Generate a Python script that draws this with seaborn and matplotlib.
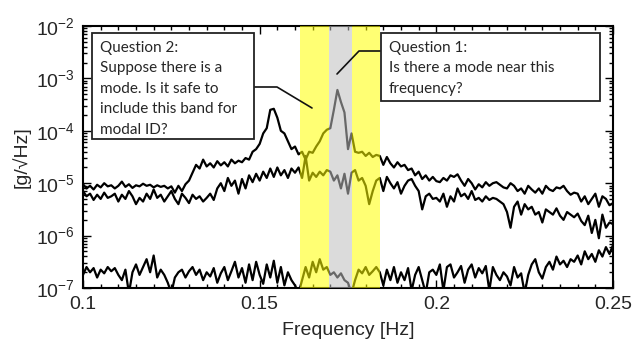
import numpy as np
import pandas as pd
import matplotlib
matplotlib.use('Agg')
import matplotlib.pyplot as plt
import seaborn as sns
from matplotlib.lines import Line2D
from matplotlib.patches import Rectangle
from matplotlib.ticker import MultipleLocator, LogLocator, NullFormatter

# frequency grid [Hz]
freq = np.round(np.linspace(0.1, 0.25, 151), 4)

# spectra, as log10 of [g/sqrt(Hz)]
upper_log10 = [
    -5.02, -5.10, -5.05, -5.12, -5.03, -5.08, -5.00, -5.06, -5.04, -5.10,
    -5.05, -4.97, -5.07, -5.02, -5.09, -5.04, -5.06, -5.01, -5.05, -5.03,
    -5.08, -5.04, -5.07, -5.05, -5.10, -5.06, -5.18, -5.05, -5.15, -5.02,
    -4.95, -4.80, -4.65, -4.72, -4.55, -4.68, -4.62, -4.70, -4.58, -4.66,
    -4.60, -4.68, -4.55, -4.62, -4.57, -4.60, -4.52, -4.55, -4.40, -4.35,
    -4.25, -4.05, -3.95, -3.60, -3.58, -3.75, -4.00, -4.05, -4.20, -4.35,
    -4.30, -4.45, -4.40, -4.55, -4.40, -4.42, -4.30, -4.20, -4.05, -3.98,
    -3.95, -3.60, -3.22, -3.45, -3.65, -4.35, -4.05, -4.40, -4.42, -4.40,
    -4.48, -4.42, -4.50, -4.46, -4.48, -4.65, -4.50, -4.62, -4.70, -4.60,
    -4.68, -4.65, -4.75, -4.72, -4.85, -4.78, -4.92, -4.85, -4.95, -4.88,
    -4.96, -4.98, -4.90, -4.95, -4.85, -4.88, -4.83, -4.95, -5.05, -4.92,
    -5.00, -5.12, -5.02, -5.08, -4.98, -5.05, -5.00, -4.98, -5.03, -5.08,
    -5.10, -5.00, -5.05, -5.15, -5.10, -5.20, -5.05, -5.12, -5.18, -5.10,
    -5.20, -5.05, -5.12, -5.15, -5.08, -5.10, -5.05, -5.15, -5.22, -5.18,
    -5.20, -5.35, -5.25, -5.40, -5.30, -5.20, -5.45, -5.25, -5.30, -5.42,
    -5.38,
]
middle_log10 = [
    -5.15, -5.25, -5.20, -5.32, -5.22, -5.30, -5.18, -5.28, -5.25, -5.20,
    -5.35, -5.22, -5.30, -5.15, -5.25, -5.40, -5.28, -5.35, -5.20, -5.30,
    -5.12, -5.28, -5.22, -5.35, -5.25, -5.15, -5.30, -5.40, -5.20, -5.28,
    -5.38, -5.22, -5.30, -5.25, -5.35, -5.28, -5.20, -5.32, -5.10, -5.00,
    -5.15, -4.90, -5.05, -4.95, -5.20, -4.92, -5.10, -4.85, -4.98, -4.82,
    -4.95, -4.78, -4.90, -4.72, -4.88, -4.70, -4.85, -4.75, -4.90, -4.72,
    -4.80, -4.70, -4.90, -4.48, -4.95, -4.80, -4.88, -4.78, -4.85, -4.75,
    -4.78, -4.95, -4.85, -5.10, -4.82, -5.20, -4.80, -4.75, -4.95, -4.90,
    -5.05, -5.40, -5.15, -4.95, -4.90, -5.15, -4.88, -5.00, -5.10, -4.98,
    -5.20, -5.05, -4.95, -4.92, -5.05, -5.15, -5.50, -5.25, -5.20, -5.30,
    -5.28, -5.35, -5.20, -5.45, -5.25, -5.35, -5.10, -5.25, -5.20, -5.30,
    -5.15, -5.32, -5.28, -5.35, -5.25, -5.32, -5.28, -5.30, -5.35, -5.40,
    -5.55, -5.85, -5.45, -5.35, -5.60, -5.40, -5.50, -5.45, -5.60, -5.55,
    -5.75, -5.50, -5.55, -5.60, -5.48, -5.62, -5.70, -5.55, -5.60, -5.65,
    -5.58, -5.72, -5.80, -5.62, -5.95, -5.70, -6.05, -5.60, -5.85, -5.75,
    -5.78,
]
lower_log10 = [
    -6.75, -6.60, -6.70, -6.62, -6.80, -6.65, -6.72, -6.60, -6.68, -6.62,
    -6.75, -6.85, -6.65, -7.10, -6.70, -6.55, -6.75, -6.60, -6.45, -6.70,
    -6.38, -6.80, -6.65, -6.75, -6.90, -7.10, -6.80, -6.70, -6.65, -6.80,
    -6.68, -6.60, -6.75, -6.65, -6.85, -6.70, -6.78, -6.62, -6.90, -6.72,
    -6.60, -6.85, -6.68, -6.50, -6.80, -6.62, -6.90, -6.55, -6.85, -6.50,
    -6.75, -6.92, -6.55, -6.80, -6.48, -6.90, -6.60, -6.95, -6.70, -6.85,
    -6.95, -7.10, -6.85, -6.60, -6.80, -6.50, -6.70, -6.45, -6.65, -6.60,
    -6.75, -6.70, -6.80, -6.72, -6.85, -6.90, -7.10, -6.85, -6.65, -6.72,
    -6.60, -6.75, -6.68, -6.60, -6.70, -6.95, -6.65, -6.85, -6.60, -6.90,
    -6.70, -6.85, -6.62, -7.05, -6.75, -6.60, -6.85, -7.10, -6.70, -6.65,
    -6.75, -6.55, -7.05, -6.60, -6.55, -6.80, -6.70, -6.58, -6.90, -6.65,
    -6.55, -6.80, -6.62, -6.72, -6.58, -7.05, -6.60, -6.75, -6.85, -6.70,
    -6.78, -6.95, -6.60, -6.80, -6.72, -7.10, -6.75, -6.55, -6.45, -6.70,
    -6.82, -6.60, -6.50, -6.65, -6.40, -6.55, -6.48, -6.60, -6.45, -6.50,
    -6.38, -6.55, -6.30, -6.45, -6.35, -6.50, -6.28, -6.40, -6.22, -6.35,
    -6.18,
]

# highlighted frequency bands [Hz]
yellow_bands = [(0.1614, 0.1697), (0.1760, 0.1840)]
gray_band = (0.1697, 0.1760)

q1_text = "Question 1:\nIs there a mode near this\nfrequency?"
q2_text = "Question 2:\nSuppose there is a\nmode. Is it safe to\ninclude this band for\nmodal ID?"

df = pd.concat([
    pd.DataFrame({'freq': freq, 'psd': 10.0 ** np.array(vals), 'series': name})
    for name, vals in [('upper', upper_log10), ('middle', middle_log10), ('lower', lower_log10)]
])

sns.set_style('ticks')
plt.rcParams['font.family'] = ['Liberation Sans', 'DejaVu Sans']

W, H = 636, 346
fig = plt.figure(figsize=(W / 100, H / 100), dpi=100)
ax = fig.add_axes([83 / W, 1 - 288 / H, 530 / W, 262 / H])

sns.lineplot(data=df, x='freq', y='psd', units='series', estimator=None,
             color='black', lw=1.6, ax=ax, zorder=2)
ax.set_yscale('log')
ax.set_xlim(0.1, 0.25)
ax.set_ylim(1e-7, 1e-2)

for a, b in yellow_bands:
    ax.axvspan(a, b, color='#ffff00', alpha=0.55, lw=0, zorder=3)
ax.axvspan(*gray_band, color='#bfbfbf', alpha=0.55, lw=0, zorder=3)

ax.set_xticks([0.1, 0.15, 0.2, 0.25])
ax.set_xticklabels(['0.1', '0.15', '0.2', '0.25'])
ax.xaxis.set_minor_locator(MultipleLocator(0.005))
ax.yaxis.set_major_locator(LogLocator(base=10))
ax.yaxis.set_minor_locator(LogLocator(base=10, subs=np.arange(2, 10)))
ax.yaxis.set_minor_formatter(NullFormatter())

ax.tick_params(which='both', direction='in', top=True, right=True,
               labelsize=14, color='black', width=1.0)
ax.tick_params(which='major', length=6, pad=6)
ax.tick_params(which='minor', length=3)
for s in ax.spines.values():
    s.set_linewidth(1.5)
    s.set_color('black')

ax.set_xlabel('Frequency [Hz]', fontsize=14, labelpad=6)
ax.set_ylabel('[g/√Hz]', fontsize=14, labelpad=4)

# annotation boxes (figure pixel layout)
def fx(px):
    return px / W

def fy(py):
    return 1 - py / H

box_font = ['Lato', 'DejaVu Sans']
for (x0, y0, x1, y1), txt in [((92, 33, 254, 139), q2_text), ((381, 33, 600, 101), q1_text)]:
    fig.add_artist(Rectangle((fx(x0), fy(y1)), fx(x1) - fx(x0), fy(y0) - fy(y1),
                             transform=fig.transFigure, facecolor='white',
                             edgecolor='#222222', lw=1.3, zorder=5))
    fig.text(fx(x0 + 8), fy(y0 + 8), txt, ha='left', va='top', fontsize=11,
             family=box_font, linespacing=1.58, zorder=6)

# connector lines
fig.add_artist(Line2D([fx(254), fx(277), fx(312)], [fy(87), fy(87), fy(108)],
                      transform=fig.transFigure, color='#111111', lw=1.2, zorder=4))
fig.add_artist(Line2D([fx(381), fx(359), fx(337)], [fy(51), fy(51), fy(74)],
                      transform=fig.transFigure, color='#111111', lw=1.2, zorder=2.5))

fig.savefig('out.png', dpi=100)
